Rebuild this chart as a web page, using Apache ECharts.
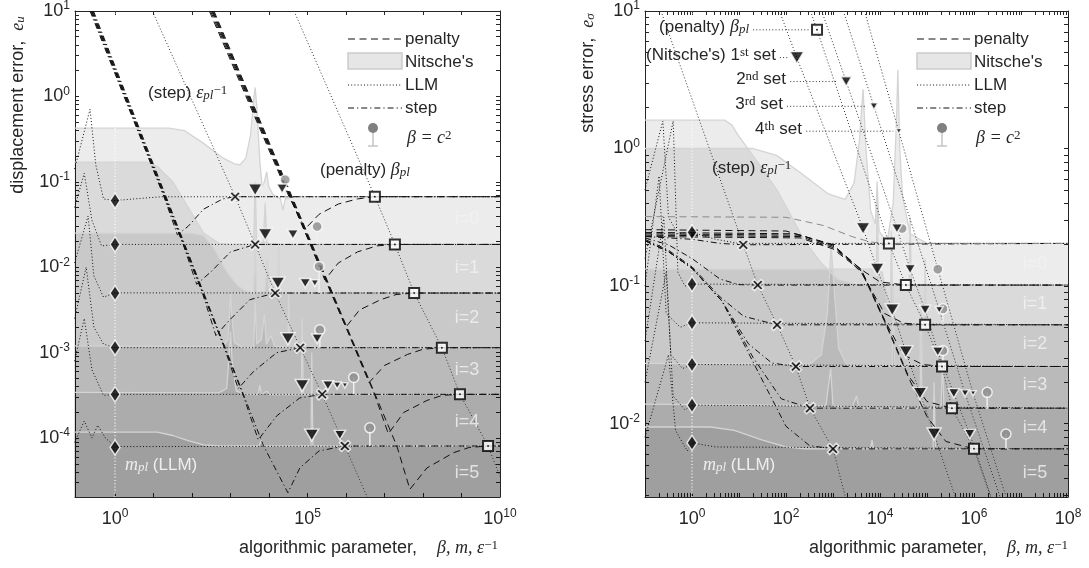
<!DOCTYPE html>
<html>
<head>
<meta charset="utf-8">
<script src="https://cdn.jsdelivr.net/npm/echarts@6/dist/echarts.min.js"></script>
<style>
  html, body { margin: 0; padding: 0; background: #fff; }
  #c { width: 1089px; height: 568px; }
</style>
</head>
<body>
<div id="c"></div>
<script>
// all points are [log10(parameter), log10(error)]

// ---------- left panel : displacement error ----------
const levelsU = [-1.174, -1.733, -2.302, -2.942, -3.488, -4.093];

const nitU0 = [[-1.05,-0.372],[1.4,-0.372],[1.8,-0.40],[2.3,-0.55],[2.8,-0.72],[3.1,-0.79],[3.25,-0.80],[3.4,-0.72],[3.52,-0.45],[3.6,-0.05],[3.64,0.105],[3.68,-0.1],[3.76,-0.75],[3.82,-1.05],[3.88,-1.0],[3.94,-0.88],[3.99,-1.05],[4.1,-1.15],[4.3,-1.2],[4.36,-1.33],[4.42,-1.2],[4.6,-1.174],[10,-1.174]];
const nitU1 = [[-1.05,-0.77],[0.8,-0.77],[1.1,-0.82],[1.5,-1.0],[1.9,-1.3],[2.3,-1.6],[2.7,-1.72],[3.0,-1.733],[3.6,-1.733],[3.64,-1.0],[3.68,-1.72],[3.85,-1.7],[3.9,-1.25],[3.95,-1.72],[4.3,-1.733],[10,-1.733]];
const nitU2 = [[-1.05,-1.60],[2.0,-1.60],[2.3,-1.63],[2.6,-1.8],[2.9,-2.05],[3.2,-2.22],[3.4,-2.28],[3.6,-2.3],[3.64,-1.8],[3.68,-2.3],[3.9,-2.28],[3.95,-1.9],[4.0,-2.29],[4.23,-2.3],[4.25,-1.75],[4.28,-2.3],[10,-2.302]];
const nitU3 = [[-1.05,-2.92],[2.8,-2.93],[2.93,-2.85],[2.98,-2.5],[3.0,-2.3],[3.03,-2.55],[3.1,-2.88],[3.3,-2.94],[3.6,-2.94],[3.64,-2.4],[3.68,-2.9],[3.8,-2.85],[3.88,-2.55],[3.93,-2.9],[4.05,-2.8],[4.15,-2.93],[4.49,-2.94],[4.51,-2.3],[4.54,-2.94],[10,-2.942]];
const nitU4 = [[-1.05,-3.465],[2.7,-3.47],[2.9,-3.42],[2.97,-3.0],[3.0,-2.75],[3.04,-3.1],[3.15,-3.45],[3.4,-3.488],[3.72,-3.49],[3.76,-3.38],[3.8,-3.49],[3.95,-3.45],[4.0,-3.49],[4.84,-3.49],[4.86,-2.6],[4.89,-3.49],[10,-3.488]];
const nitU5 = [[-1.05,-3.93],[1.1,-3.93],[1.5,-3.97],[1.9,-4.03],[2.3,-4.08],[2.7,-4.093],[3.74,-4.093],[3.8,-4.03],[3.86,-4.093],[5.09,-4.093],[5.11,-3.0],[5.14,-4.093],[10,-4.093]];

const penU0 = [[2.45,1],[4.52,-1.174],[4.94,-1.55],[5.3,-1.38],[5.8,-1.26],[6.3,-1.2],[6.75,-1.174],[10,-1.174]];
const penU1 = [[2.48,1],[5.07,-1.733],[5.45,-2.15],[5.8,-1.95],[6.3,-1.82],[6.8,-1.75],[7.27,-1.733],[10,-1.733]];
const penU2 = [[2.51,1],[5.61,-2.302],[6.0,-2.7],[6.35,-2.5],[6.9,-2.38],[7.3,-2.32],[7.77,-2.302],[10,-2.302]];
const penU3 = [[2.53,1],[6.22,-2.942],[6.6,-3.35],[7.0,-3.15],[7.6,-3.02],[8.0,-2.96],[8.49,-2.942],[10,-2.942]];
const penU4 = [[2.55,1],[6.74,-3.488],[7.1,-3.95],[7.5,-3.7],[8.1,-3.56],[8.5,-3.5],[8.96,-3.488],[10,-3.488]];
const penU5 = [[2.57,1],[7.32,-4.093],[7.66,-4.6],[8.1,-4.35],[8.8,-4.17],[9.2,-4.11],[9.69,-4.093],[10,-4.093]];

const stepU0 = [[-0.65,1],[1.27,-1.174],[1.62,-1.62],[1.9,-1.52],[2.3,-1.32],[2.8,-1.2],[3.12,-1.174],[10,-1.174]];
const stepU1 = [[-0.63,1],[1.77,-1.733],[2.12,-2.2],[2.5,-2.05],[3.0,-1.82],[3.64,-1.733],[10,-1.733]];
const stepU2 = [[-0.61,1],[2.27,-2.302],[2.62,-2.8],[2.95,-2.63],[3.5,-2.38],[4.16,-2.302],[10,-2.302]];
const stepU3 = [[-0.6,1],[2.84,-2.942],[3.2,-3.42],[3.6,-3.22],[4.2,-3.0],[4.81,-2.942],[10,-2.942]];
const stepU4 = [[-0.58,1],[3.32,-3.488],[3.72,-4.02],[4.2,-3.74],[4.8,-3.53],[5.38,-3.488],[10,-3.488]];
const stepU5 = [[-0.56,1],[3.86,-4.093],[4.49,-4.64],[4.8,-4.35],[5.3,-4.15],[5.97,-4.093],[10,-4.093]];

const llmU0 = [[-1.05,-0.85],[-0.65,-0.15],[-0.5,-0.8],[-0.3,-1.2],[0,-1.22],[0.5,-1.2],[1.2,-1.175],[10,-1.174]];
const llmU1 = [[-1.05,-1.3],[-0.8,-0.9],[-0.6,-1.45],[-0.35,-1.75],[0,-1.733],[10,-1.733]];
const llmU2 = [[-1.05,-1.95],[-0.7,-1.4],[-0.55,-2.1],[-0.3,-2.35],[0,-2.30],[10,-2.302]];
const llmU3 = [[-1.05,-2.6],[-0.75,-2.0],[-0.55,-2.7],[-0.3,-2.9],[0,-2.942],[10,-2.942]];
const llmU4 = [[-1.05,-3.1],[-0.8,-2.6],[-0.6,-3.2],[-0.3,-3.5],[0,-3.488],[10,-3.488]];
const llmU5 = [[-1.05,-4.05],[-0.8,-3.8],[-0.6,-4.0],[-0.45,-3.85],[-0.25,-4.0],[0,-4.1],[10,-4.093]];

const diamU = [[0,-1.221],[0,-1.733],[0,-2.302],[0,-2.942],[0,-3.488],[0,-4.11]];
const epsU = [[3.12,-1.174],[3.64,-1.733],[4.16,-2.302],[4.81,-2.942],[5.38,-3.488],[5.97,-4.093]];
const epsLineU = [[0.97,1],[3.12,-1.174],[3.64,-1.733],[4.16,-2.302],[4.81,-2.942],[5.38,-3.488],[5.97,-4.093],[6.55,-4.69]];
const betaU = [[6.75,-1.174],[7.27,-1.733],[7.77,-2.302],[8.49,-2.942],[8.96,-3.488],[9.69,-4.093]];
const betaLineU = [[4.65,1],[6.75,-1.174],[7.27,-1.733],[7.77,-2.302],[8.49,-2.942],[8.96,-3.488],[9.69,-4.093],[10,-4.45]];
const tri1U = [[3.64,-1.093],[3.9,-1.616],[4.23,-2.186],[4.49,-2.837],[4.86,-3.384],[5.11,-3.965]];
const tri2U = [[4.34,-1.08],[4.62,-1.616],[4.94,-2.186],[5.25,-2.837],[5.53,-3.384],[5.84,-3.965]];
const tri3U = [[5.19,-2.186],[5.77,-3.384]];
const tri4U = [[5.97,-3.384]];
const lolU = [[4.42,-0.977],[5.25,-1.523],[5.3,-1.99],[5.32,-2.733],[6.2,-3.29],[6.62,-3.88]];
const tagU = [[9.14,-1.43],[9.14,-2.01],[9.14,-2.6],[9.14,-3.2],[9.14,-3.81],[9.14,-4.41]];

// ---------- right panel : stress error ----------
const levelsS = [-0.69, -0.993, -1.282, -1.585, -1.888, -2.184];

const nitS0 = [[-1,0],[1.3,0],[1.8,-0.05],[2.4,-0.2],[2.9,-0.33],[3.26,-0.37],[3.45,-0.25],[3.56,0.05],[3.64,0.43],[3.7,0.0],[3.8,-0.45],[3.9,-0.55],[3.94,-0.24],[3.98,-0.6],[4.15,-0.68],[4.28,-0.4],[4.35,0.2],[4.38,0.57],[4.42,0.0],[4.48,-0.35],[4.64,-0.62],[5.0,-0.69],[8,-0.69]];
const nitS1 = [[-1,0.206],[0.7,0.206],[0.85,0.17],[0.98,0.097],[1.4,-0.1],[1.83,-0.314],[2.4,-0.675],[2.77,-0.84],[3.1,-0.95],[3.5,-0.99],[3.92,-0.99],[3.94,-0.3],[3.97,-0.99],[4.62,-0.993],[4.64,-0.5],[4.67,-0.993],[8,-0.993]];
const nitS2 = [[-1,-0.877],[3.9,-0.877],[4.05,-0.9],[4.15,-1.1],[4.22,-1.22],[4.24,-0.6],[4.28,-1.25],[4.5,-1.27],[4.94,-1.28],[4.96,-0.8],[4.99,-1.282],[8,-1.282]];
const nitS3 = [[-1,-1.563],[2.5,-1.57],[2.75,-1.5],[2.88,-1.2],[2.96,-0.7],[3.02,-1.0],[3.12,-1.45],[3.3,-1.58],[4.26,-1.585],[4.28,-1.0],[4.31,-1.585],[4.85,-1.585],[4.87,-1.1],[4.9,-1.585],[8,-1.585]];
const nitS4 = [[-1,-1.859],[2.85,-1.87],[2.95,-1.6],[3.0,-1.87],[3.4,-1.888],[3.5,-1.8],[3.55,-1.888],[4.85,-1.888],[4.87,-1.4],[4.9,-1.888],[5.3,-1.888],[5.33,-1.5],[5.36,-1.888],[8,-1.888]];
const nitS5 = [[-1,-2.025],[0.4,-2.025],[0.9,-2.05],[1.5,-2.12],[2.0,-2.17],[2.4,-2.184],[3.8,-2.184],[3.83,-2.12],[3.86,-2.184],[5.13,-2.184],[5.15,-1.7],[5.18,-2.184],[8,-2.184]];

const penS0 = [[-1,-0.495],[2.0,-0.5],[2.8,-0.56],[3.4,-0.64],[3.8,-0.68],[4.19,-0.69],[8,-0.69]];
const penS1 = [[-1,-0.59],[2.0,-0.6],[3.0,-0.7],[3.6,-0.88],[4.0,-0.97],[4.55,-0.993],[8,-0.993]];
const penS2 = [[-1,-0.61],[2.2,-0.62],[3.0,-0.7],[3.6,-0.9],[4.1,-1.2],[4.5,-1.27],[4.96,-1.282],[8,-1.282]];
const penS3 = [[-1,-0.62],[2.3,-0.63],[3.0,-0.71],[3.6,-0.88],[4.1,-1.25],[4.5,-1.5],[4.9,-1.57],[5.32,-1.585],[8,-1.585]];
const penS4 = [[-1,-0.63],[2.3,-0.64],[3.0,-0.72],[3.6,-0.88],[4.1,-1.25],[4.6,-1.65],[5.0,-1.84],[5.53,-1.888],[8,-1.888]];
const penS5 = [[-1,-0.64],[2.3,-0.65],[3.0,-0.73],[3.6,-0.89],[4.1,-1.26],[4.6,-1.66],[5.0,-1.95],[5.4,-2.13],[6.0,-2.184],[8,-2.184]];

const stepS0 = [[-1,-0.64],[0,-0.66],[0.6,-0.69],[1.09,-0.70],[8,-0.69]];
const stepS1 = [[-1,-0.65],[-0.5,-0.7],[0,-0.8],[0.6,-0.95],[1.0,-0.99],[1.4,-0.993],[8,-0.993]];
const stepS2 = [[-1,-0.66],[-0.5,-0.74],[0,-0.86],[0.6,-1.08],[1.1,-1.22],[1.81,-1.282],[8,-1.282]];
const stepS3 = [[-1,-0.67],[-0.5,-0.75],[0,-0.87],[0.64,-1.11],[1.2,-1.42],[1.7,-1.56],[2.21,-1.585],[8,-1.585]];
const stepS4 = [[-1,-0.67],[-0.5,-0.75],[0,-0.87],[0.64,-1.11],[1.3,-1.52],[1.9,-1.82],[2.51,-1.888],[8,-1.888]];
const stepS5 = [[-1,-0.67],[-0.5,-0.75],[0,-0.87],[0.64,-1.11],[1.4,-1.62],[2.0,-2.02],[2.5,-2.16],[3.0,-2.184],[8,-2.184]];

const llmS0 = [[-1,-0.3],[-0.62,0.2],[-0.5,-0.5],[-0.3,-0.62],[0,-0.61],[0.5,-0.66],[1.0,-0.69],[8,-0.69]];
const llmS1 = [[-1,-0.8],[-0.4,0.2],[-0.3,-0.9],[-0.15,-1.0],[0,-0.986],[8,-0.993]];
const llmS2 = [[-1,-1.0],[-0.7,-0.2],[-0.55,-1.2],[-0.25,-1.3],[0,-1.267],[8,-1.282]];
const llmS3 = [[-1,-1.4],[-0.6,-0.5],[-0.45,-1.5],[-0.2,-1.6],[0,-1.57],[8,-1.585]];
const llmS4 = [[-1,-1.7],[-0.55,-0.9],[-0.4,-1.8],[-0.15,-1.9],[0,-1.866],[8,-1.888]];
const llmS5 = [[-1,-2.1],[-0.5,-1.5],[-0.35,-2.05],[-0.1,-2.2],[0,-2.14],[0.5,-2.17],[8,-2.184]];

const diamS = [[0,-0.61],[0,-0.986],[0,-1.267],[0,-1.57],[0,-1.866],[0,-2.14]];
const epsS = [[1.09,-0.70],[1.4,-0.993],[1.81,-1.282],[2.21,-1.585],[2.51,-1.888],[3.0,-2.184]];
const epsLineS = [[-0.66,1],[1.09,-0.70],[1.4,-0.993],[1.81,-1.282],[2.21,-1.585],[2.51,-1.888],[3.0,-2.184],[3.26,-2.53]];
const betaS = [[4.19,-0.69],[4.55,-0.993],[4.96,-1.282],[5.32,-1.585],[5.53,-1.888],[6.0,-2.184]];
const betaLineS = [[2.52,1],[2.66,0.863],[4.19,-0.69],[4.55,-0.993],[4.96,-1.282],[5.32,-1.585],[5.53,-1.888],[6.0,-2.184],[6.35,-2.53]];
const tri1S = [[3.64,-0.581],[3.94,-0.877],[4.26,-1.173],[4.55,-1.477],[4.85,-1.78],[5.15,-2.076]];
const tri2S = [[4.36,-0.581],[4.64,-0.877],[4.96,-1.173],[5.23,-1.477],[5.57,-1.78],[5.91,-2.076]];
const tri3S = [[5.26,-1.173],[5.81,-1.78]];
const tri4S = [[5.98,-1.78]];
const set1LineS = [[1.86,1],[2.23,0.661],[3.64,-0.581],[3.94,-0.877],[4.26,-1.173],[4.55,-1.477],[4.85,-1.78],[5.15,-2.076],[5.6,-2.53]];
const set2LineS = [[2.76,1],[3.28,0.487],[4.36,-0.581],[4.64,-0.877],[4.96,-1.173],[5.23,-1.477],[5.57,-1.78],[5.91,-2.076],[6.36,-2.53]];
const set3LineS = [[3.22,1],[3.87,0.307],[5.26,-1.173],[5.81,-1.78],[6.55,-2.53]];
const set4LineS = [[3.67,1],[4.40,0.126],[5.98,-1.78],[6.68,-2.53]];
const keyMarkS = { beta: [[2.66,0.863]], t1: [[2.23,0.661]], t2: [[3.28,0.487]], t3: [[3.87,0.307]], t4: [[4.40,0.126]] };
const keyLeadS = [[[1.30,0.863],[2.51,0.863]], [[1.87,0.661],[2.04,0.661]], [[2.09,0.487],[3.11,0.487]], [[2.02,0.307],[3.72,0.307]], [[2.43,0.126],[4.28,0.126]]];
const lolS = [[4.47,-0.581],[5.23,-0.877],[5.34,-1.166],[5.34,-1.469],[6.28,-1.773],[6.68,-2.076]];
const tagS = [[7.3,-0.841],[7.3,-1.13],[7.3,-1.419],[7.3,-1.722],[7.3,-2.03],[7.3,-2.357]];

// axis ranges (log10) and tick labels
const xRangeU = [-1.04, 10], yRangeU = [-4.69, 1];
const xRangeS = [-1, 8], yRangeS = [-2.534, 1];
const xLabelsU = [1, 1e5, 1e10];
const xLabelsS = [1, 1e2, 1e4, 1e6, 1e8];
const yLabelsU = [1e-4, 1e-3, 1e-2, 1e-1, 1, 10];
const yLabelsS = [1e-2, 1e-1, 1, 10];

const P = a => a.map(p => [Math.pow(10, p[0]), Math.pow(10, p[1])]);
const decades = (a, b) => { const t = []; for (let e = a; e <= b; e++) t.push(Math.pow(10, e)); return t; };
const withMinor = (a, b) => { const t = []; for (let e = a; e <= b; e++) for (let k = 1; k <= 9; k++) t.push(k * Math.pow(10, e)); return t; };

const SANS = '"Liberation Sans", Arial, sans-serif';
const SERIF = '"Liberation Serif", "DejaVu Serif", serif';
const INK = '#262626';
const DASH = [7, 4.5], DOT = [1, 2.2], DASHDOT = [6, 3, 1.2, 3];

const RICH = {
  m: { fontFamily: SERIF, fontStyle: 'italic', fontSize: 18, color: INK, fill: INK },
  sub: { fontFamily: SERIF, fontStyle: 'italic', fontSize: 13, verticalAlign: 'bottom', lineHeight: 13, color: INK, fill: INK },
  sup: { fontFamily: SERIF, fontSize: 13, verticalAlign: 'top', lineHeight: 13, color: INK, fill: INK },
  mw: { fontFamily: SERIF, fontStyle: 'italic', fontSize: 18, color: '#eeeeee', fill: '#eeeeee' },
  subw: { fontFamily: SERIF, fontStyle: 'italic', fontSize: 13, verticalAlign: 'bottom', lineHeight: 13, color: '#eeeeee', fill: '#eeeeee' }
};
const labRich = { sup: { fontFamily: SANS, fontSize: 12, verticalAlign: 'top', lineHeight: 12, color: INK } };
const powLabel = v => '10{sup|' + Math.round(Math.log10(v)) + '}';

function mkAxis(kind, grid, pos, range, labels, ticks) {
  const show = pos === 'bottom' || pos === 'left';
  return {
    type: 'log', logBase: 10, gridIndex: grid, position: pos,
    min: Math.pow(10, range[0]), max: Math.pow(10, range[1]),
    axisLine: { show: true, onZero: false, lineStyle: { color: INK, width: 1 } },
    axisTick: { show: true, inside: true, length: 4, customValues: ticks, lineStyle: { color: INK } },
    axisLabel: { show: show, customValues: labels, formatter: powLabel, fontSize: 18, fontFamily: SANS,
      color: INK, margin: kind === 'x' ? 11 : 5, lineHeight: 22, rich: labRich },
    splitLine: { show: false }, minorTick: { show: false }, minorSplitLine: { show: false }
  };
}

const xTicksU = decades(0, 9);
const xTicksS = withMinor(-1, 8);
const yTicksU = withMinor(-5, 1);
const yTicksS = withMinor(-3, 1);

const xAxis = [
  mkAxis('x', 0, 'bottom', xRangeU, xLabelsU, xTicksU),
  mkAxis('x', 0, 'top', xRangeU, xLabelsU, xTicksU),
  mkAxis('x', 1, 'bottom', xRangeS, xLabelsS, xTicksS),
  mkAxis('x', 1, 'top', xRangeS, xLabelsS, xTicksS)
];
const yAxis = [
  mkAxis('y', 0, 'left', yRangeU, yLabelsU, yTicksU),
  mkAxis('y', 0, 'right', yRangeU, yLabelsU, yTicksU),
  mkAxis('y', 1, 'left', yRangeS, yLabelsS, yTicksS),
  mkAxis('y', 1, 'right', yRangeS, yLabelsS, yTicksS)
];

const series = [];
function addArea(g, pts) {
  series.push({ type: 'line', xAxisIndex: 2 * g, yAxisIndex: 2 * g, data: P(pts), symbol: 'none', silent: true,
    lineStyle: { color: '#d4d4d4', width: 1.3 }, areaStyle: { color: 'rgba(0,0,0,0.105)', origin: 'start' }, z: 1 });
}
function addLine(g, pts, color, dash, width, z) {
  series.push({ type: 'line', xAxisIndex: 2 * g, yAxisIndex: 2 * g, data: P(pts), symbol: 'none', silent: true,
    lineStyle: { color: color, width: width || 1, type: dash }, z: z || 3 });
}
function addMarks(g, pts, sym) {
  series.push(Object.assign({ type: 'scatter', xAxisIndex: 2 * g, yAxisIndex: 2 * g, data: P(pts), silent: true, z: 6 }, sym));
}
const ITEM = { color: '#000', borderColor: '#fff', borderWidth: 1.5 };
const DIAMOND = { symbol: 'diamond', symbolSize: [10, 15], itemStyle: ITEM };
const CROSS = { symbol: 'path://M2,0 L5,3 L8,0 L10,2 L7,5 L10,8 L8,10 L5,7 L2,10 L0,8 L3,5 L0,2 Z', symbolSize: 11, itemStyle: ITEM };
const SQUARE = { symbol: 'rect', symbolSize: 10, itemStyle: { color: '#fff', borderColor: '#000', borderWidth: 2 } };
const CENTER = { symbol: 'circle', symbolSize: 2, itemStyle: { color: '#000' }, z: 7 };
const tri = s => ({ symbol: 'triangle', symbolRotate: 180, symbolSize: [s, s * 0.85], itemStyle: ITEM });
const LOLLI = { symbol: 'circle', symbolSize: 10, itemStyle: { color: '#8c8c8c', borderColor: '#fff', borderWidth: 1.5 } };

function buildPanel(g, lv, nit, pen, step, llm, yr, o) {
  nit.forEach(n => addArea(g, n));
  // white dotted guide at parameter = 1
  addLine(g, [[0, yr[0]], [0, yr[1]]], '#ffffff', DOT, 1.2, 2);
  llm.forEach(c => addLine(g, c, '#111', DOT, 1));
  step.forEach(c => addLine(g, c, '#111', DASHDOT, 1));
  pen.forEach((c, i) => addLine(g, c, o.penGray && i === 0 ? '#8a8a8a' : '#111', DASH, 1));
  o.diag.forEach(c => addLine(g, c, '#333', DOT, 1, 4));
  o.lol.forEach((p, i) => addLine(g, [[p[0], lv[i]], p], '#eeeeee', 'solid', 1.5, 5));
  addMarks(g, o.lol, LOLLI);
  addMarks(g, o.diam, DIAMOND);
  addMarks(g, o.eps, CROSS);
  addMarks(g, o.beta, SQUARE);
  addMarks(g, o.beta, CENTER);
  addMarks(g, o.t1, tri(14));
  addMarks(g, o.t2, tri(11));
  addMarks(g, o.t3, tri(8));
  addMarks(g, o.t4, tri(6));
  series.push({ type: 'scatter', xAxisIndex: 2 * g, yAxisIndex: 2 * g, data: P(o.tag), symbolSize: 1, silent: true, z: 8,
    itemStyle: { color: 'rgba(0,0,0,0)' },
    label: { show: true, position: 'inside', formatter: p => 'i=' + p.dataIndex, color: '#f2f2f2',
      fontSize: 18, fontFamily: SANS } });
}

buildPanel(0, levelsU, [nitU0, nitU1, nitU2, nitU3, nitU4, nitU5], [penU0, penU1, penU2, penU3, penU4, penU5],
  [stepU0, stepU1, stepU2, stepU3, stepU4, stepU5], [llmU0, llmU1, llmU2, llmU3, llmU4, llmU5], yRangeU,
  { diag: [epsLineU, betaLineU], lol: lolU, diam: diamU, eps: epsU, beta: betaU,
    t1: tri1U, t2: tri2U, t3: tri3U, t4: tri4U, tag: tagU });

buildPanel(1, levelsS, [nitS0, nitS1, nitS2, nitS3, nitS4, nitS5], [penS0, penS1, penS2, penS3, penS4, penS5],
  [stepS0, stepS1, stepS2, stepS3, stepS4, stepS5], [llmS0, llmS1, llmS2, llmS3, llmS4, llmS5], yRangeS,
  { penGray: true, diag: [epsLineS, betaLineS, set1LineS, set2LineS, set3LineS, set4LineS].concat(keyLeadS),
    lol: lolS, diam: diamS, eps: epsS, beta: betaS.concat(keyMarkS.beta),
    t1: tri1S.concat(keyMarkS.t1), t2: tri2S.concat(keyMarkS.t2), t3: tri3S.concat(keyMarkS.t3), t4: tri4S.concat(keyMarkS.t4), tag: tagS });

// ---------- texts and keys ----------
function txt(x, y, text, align, rot, fill, size) {
  const el = { type: 'text', x: x, y: y, z: 100, silent: true,
    style: { text: text, rich: RICH, fontSize: size || 17, fontFamily: SANS, fill: fill || INK,
      align: align || 'left', textAlign: align || 'left', verticalAlign: 'middle', textVerticalAlign: 'middle' } };
  if (rot) el.rotation = rot;
  return el;
}
function seg(x1, y1, x2, y2, dash, color, w) {
  return { type: 'line', z: 100, silent: true, shape: { x1: x1, y1: y1, x2: x2, y2: y2 },
    style: { stroke: color || '#111', lineWidth: w || 1, lineDash: dash || null } };
}
function key(dx) {
  const a = 348 + dx, b = 402 + dx, t = 405 + dx, c = 373 + dx;
  return [
    seg(a, 39, b, 39, DASH), txt(t, 39, 'penalty'),
    { type: 'rect', z: 100, silent: true, shape: { x: a, y: 53, width: b - a, height: 16 }, style: { fill: '#e6e6e6', stroke: '#cccccc', lineWidth: 1.5 } },
    txt(t, 62, "Nitsche's"),
    seg(a, 85, b, 85, DOT), txt(t, 85, 'LLM'),
    seg(a, 108, b, 108, DASHDOT), txt(t, 108, 'step'),
    seg(c, 132, c, 146, null, '#c4c4c4', 1.5), seg(c - 5, 146, c + 5, 146, null, '#c4c4c4', 1.5),
    { type: 'circle', z: 101, silent: true, shape: { cx: c, cy: 128, r: 5 }, style: { fill: '#808080' } },
    txt(t + 2, 138, '{m|β = c}{sup|2}')
  ];
}

const texts = [
  txt(18, 105, 'displacement error,  {m|e}{sub|u}', 'center', Math.PI / 2, INK, 18),
  txt(588, 73, 'stress error,  {m|e}{sub|σ}', 'center', Math.PI / 2, INK, 18),
  txt(498, 548, 'algorithmic parameter,    {m|β, m, ε}{sup|−1}', 'right', 0, INK, 18),
  txt(1068, 548, 'algorithmic parameter,    {m|β, m, ε}{sup|−1}', 'right', 0, INK, 18),
  txt(148, 93, '(step) {m|ε}{sub|pl}{sup|−1}'),
  txt(320, 170, '(penalty) {m|β}{sub|pl}'),
  txt(125, 465, '{mw|m}{subw|pl} (LLM)', 'left', 0, '#eeeeee'),
  txt(712, 168, '(step) {m|ε}{sub|pl}{sup|−1}'),
  txt(703, 465, '{mw|m}{subw|pl} (LLM)', 'left', 0, '#eeeeee'),
  txt(749, 27, '(penalty) {m|β}{sub|pl}', 'right'),
  txt(776, 55, "(Nitsche's) 1{sup|st} set", 'right'),
  txt(786, 79, '2{sup|nd} set', 'right'),
  txt(783, 104, '3{sup|rd} set', 'right'),
  txt(802, 129, '4{sup|th} set', 'right')
];

const chart = echarts.init(document.getElementById('c'), null, { renderer: 'canvas' });
chart.setOption({
  animation: false,
  backgroundColor: '#ffffff',
  grid: [
    { left: 75, top: 8, width: 425, height: 489, containLabel: false },
    { left: 645, top: 8, width: 423, height: 489, containLabel: false }
  ],
  xAxis: xAxis,
  yAxis: yAxis,
  series: series,
  graphic: [].concat(key(0), key(569), texts)
});
</script>
</body>
</html>
